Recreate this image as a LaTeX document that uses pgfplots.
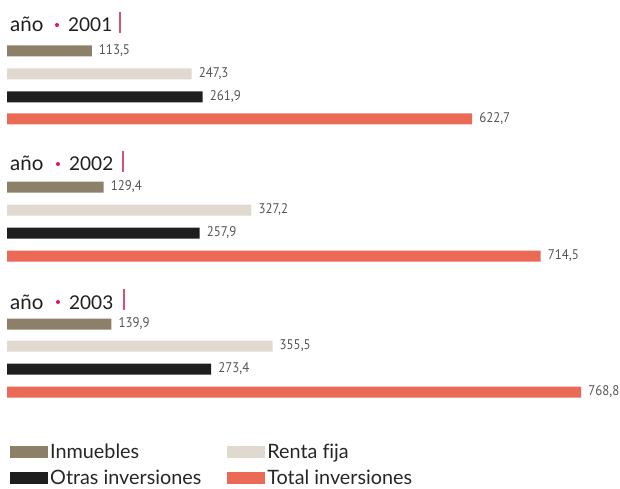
\documentclass[border=0pt]{standalone}
\usepackage{pgfplots}
\pgfplotsset{compat=1.18}
\usepackage{fontspec}
\setmainfont{Lato}[Ligatures=NoCommon]
\newfontfamily\numfont[FakeStretch=0.92]{PT Sans}
\definecolor{inmu}{HTML}{8C8068}
\definecolor{renta}{HTML}{E0D9D0}
\definecolor{otras}{HTML}{1E1E1E}
\definecolor{total}{HTML}{EA6A55}
\definecolor{accent}{HTML}{E0174A}
\definecolor{accline}{HTML}{DA4F73}
\definecolor{numgray}{HTML}{555555}

\begin{document}
\begin{tikzpicture}
\begin{axis}[
    at={(0,0)}, anchor=south west,
    scale only axis,
    width=620pt, height=488pt,
    xmin=-9.373, xmax=820.8,
    ymin=0, ymax=488,
    hide axis,
    clip=false,
    xbar,
    bar width=11pt,
    bar shift=0pt,
    point meta=x,
    nodes near coords,
    nodes near coords style={anchor=west, inner sep=0pt, xshift=7pt,
        font=\numfont\fontsize{14}{16}\selectfont, text=numgray,
        /pgf/number format/.cd, fixed, fixed zerofill, precision=1,
        use comma, 1000 sep={}, assume math mode=true},
    legend columns=2,
    legend cell align=left,
    legend image code/.code={\fill[#1] (0pt,-6pt) rectangle (38pt,6pt);},
    legend style={draw=none, fill=none, at={(0.0161,0.0943)}, anchor=north west,
        font=\fontsize{19.8}{22}\selectfont, text=black!85,
        inner sep=0pt, row sep=6pt,
        /tikz/every even column/.append style={column sep=24pt}},
]
\addplot[fill=inmu, draw=none] coordinates {(113.5,437) (129.4,301) (139.9,164)};
\addlegendentry{Inmuebles}
\addplot[fill=renta, draw=none] coordinates {(247.3,414) (327.2,278) (355.5,142)};
\addlegendentry{Renta fija}
\addplot[fill=otras, draw=none] coordinates {(261.9,391) (257.9,255) (273.4,119)};
\addlegendentry{Otras inversiones}
\addplot[fill=total, draw=none] coordinates {(622.7,369) (714.5,232) (768.8,96)};
\addlegendentry{Total inversiones}
\end{axis}

% group headings
\foreach \yr/\by/\lx/\dx in {2001/456/120/0, 2002/317/123/1, 2003/179/124/1}{
  \node[anchor=base west, inner sep=0pt, text=black!88,
        font=\fontsize{20.5}{22}\selectfont] at (10pt,\by pt) {año};
  \fill[accent] (57pt+\dx pt,\by pt+7pt) circle (2pt);
  \node[anchor=base west, inner sep=0pt, text=black!88,
        font=\fontsize{19}{22}\selectfont] at (68pt+\dx pt,\by pt) {\yr};
  \draw[accline, line width=1.2pt] (\lx pt,\by pt-1pt) -- (\lx pt,\by pt+20pt);
}
\pgfresetboundingbox
\path[use as bounding box] (0,0) rectangle (620pt,488pt);
\end{tikzpicture}
\end{document}
